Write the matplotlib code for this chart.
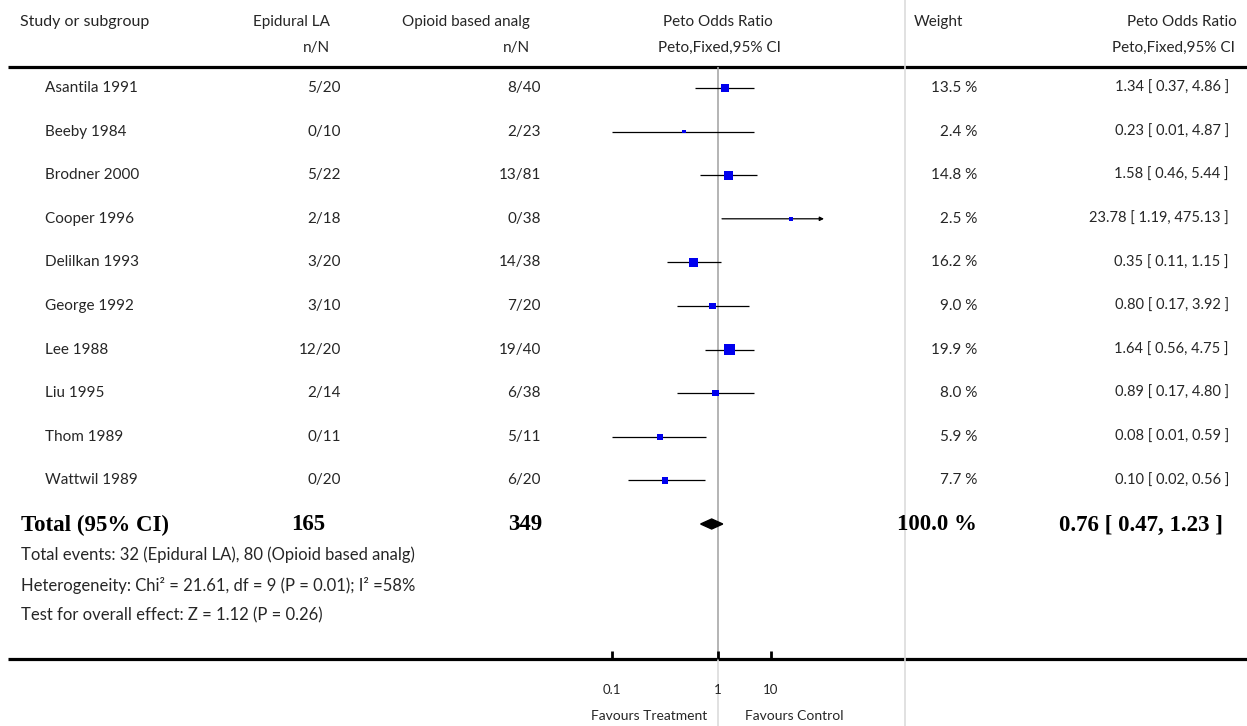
import matplotlib.pyplot as plt
import numpy as np

# data
studies = ['Asantila 1991', 'Beeby 1984', 'Brodner 2000', 'Cooper 1996', 'Delilkan 1993',
           'George 1992', 'Lee 1988', 'Liu 1995', 'Thom 1989', 'Wattwil 1989']
epidural = ['5/20', '0/10', '5/22', '2/18', '3/20', '3/10', '12/20', '2/14', '0/11', '0/20']
opioid = ['8/40', '2/23', '13/81', '0/38', '14/38', '7/20', '19/40', '6/38', '5/11', '6/20']
weight = [13.5, 2.4, 14.8, 2.5, 16.2, 9.0, 19.9, 8.0, 5.9, 7.7]
peto_or = [1.34, 0.23, 1.58, 23.78, 0.35, 0.80, 1.64, 0.89, 0.08, 0.10]
ci_lo = [0.37, 0.01, 0.46, 1.19, 0.11, 0.17, 0.56, 0.17, 0.01, 0.02]
ci_hi = [4.86, 4.87, 5.44, 475.13, 1.15, 3.92, 4.75, 4.80, 0.59, 0.56]
total_n = ['165', '349']
total_or, total_lo, total_hi = 0.76, 0.47, 1.23
total_weight = '100.0 %'
footer = ['Total events: 32 (Epidural LA), 80 (Opioid based analg)',
          'Heterogeneity: Chi\u00b2 = 21.61, df = 9 (P = 0.01); I\u00b2 =58%',
          'Test for overall effect: Z = 1.12 (P = 0.26)']
tick_pos = [0.01, 1, 10]
tick_labels = ['0.1', '1', '10']

plt.rcParams['font.family'] = ['Lato', 'DejaVu Sans']
W, H = 1247, 726
fig = plt.figure(figsize=(W / 100, H / 100), dpi=100)

# background axes in pixel coordinates for the table text
bg = fig.add_axes([0, 0, 1, 1])
bg.set_xlim(0, W)
bg.set_ylim(H, 0)
bg.axis('off')

fs = 11
tc = '#262626'
row_y = 88 + 43.6 * np.arange(len(studies))
total_y = 88 + 43.6 * len(studies)

# headers
bg.text(20, 22, 'Study or subgroup', fontsize=fs + 0.5, color=tc, va='center')
bg.text(330, 22, 'Epidural LA', fontsize=fs, color=tc, va='center', ha='right')
bg.text(330, 48, 'n/N', fontsize=fs, color=tc, va='center', ha='right')
bg.text(530, 22, 'Opioid based analg', fontsize=fs, color=tc, va='center', ha='right')
bg.text(530, 48, 'n/N', fontsize=fs, color=tc, va='center', ha='right')
bg.text(718, 22, 'Peto Odds Ratio', fontsize=fs, color=tc, va='center', ha='center')
bg.text(719, 48, 'Peto,Fixed,95% CI', fontsize=fs, color=tc, va='center', ha='center')
bg.text(914, 22, 'Weight', fontsize=fs, color=tc, va='center')
bg.text(1237, 22, 'Peto Odds Ratio', fontsize=fs, color=tc, va='center', ha='right')
bg.text(1235, 48, 'Peto,Fixed,95% CI', fontsize=fs, color=tc, va='center', ha='right')

# study rows
for i, y in enumerate(row_y):
    bg.text(45, y, studies[i], fontsize=fs, color=tc, va='center')
    bg.text(341, y, epidural[i], fontsize=fs, color=tc, va='center', ha='right')
    bg.text(541, y, opioid[i], fontsize=fs, color=tc, va='center', ha='right')
    bg.text(977, y, f'{weight[i]:.1f} %', fontsize=fs, color=tc, va='center', ha='right')
    bg.text(1229, y, f'{peto_or[i]:.2f} [ {ci_lo[i]:.2f}, {ci_hi[i]:.2f} ]',
            fontsize=fs - 0.5, color=tc, va='center', ha='right')

# total row (bold serif)
bfont = dict(family='Liberation Serif', fontweight='bold', fontsize=16.5, va='center')
bg.text(21, total_y + 1, 'Total (95% CI)', **bfont)
bg.text(325, total_y + 1, total_n[0], ha='right', **bfont)
bg.text(542, total_y + 1, total_n[1], ha='right', **bfont)
bg.text(977, total_y + 1, total_weight, ha='right', **bfont)
bg.text(1223, total_y + 1, f'{total_or:.2f} [ {total_lo:.2f}, {total_hi:.2f} ]', ha='right', **bfont)

for j, line in enumerate(footer):
    bg.text(21, 555 + 30 * j, line, fontsize=12, color=tc, va='center')

# rules
bg.plot([8, W], [67, 67], color='black', lw=2.3, solid_capstyle='butt')
bg.plot([8, W], [659, 659], color='black', lw=2.3, solid_capstyle='butt')
bg.plot([905, 905], [0, H], color='#dcdcdc', lw=1.2)

bg.text(707, 716, 'Favours Treatment', fontsize=10, color=tc, va='center', ha='right')
bg.text(745, 716, 'Favours Control', fontsize=10, color=tc, va='center', ha='left')

# forest axes on a log scale
x0, x1, ytop, ybot = 612, 824, 67, 659
ax = fig.add_axes([x0 / W, (H - ybot) / H, (x1 - x0) / W, (ybot - ytop) / H])
ax.set_xscale('log')
ax.set_xlim(0.01, 100)
ax.set_ylim(ybot, ytop)
ax.patch.set_alpha(0)
for s in ax.spines.values():
    s.set_visible(False)
ax.set_yticks([])
ax.set_xticks(tick_pos, labels=tick_labels)
ax.xaxis.set_minor_locator(plt.NullLocator())
ax.tick_params(axis='x', direction='in', length=6, width=2, pad=18, labelsize=9.5, labelcolor=tc)

ax.axvline(1, color='#a8a8a8', lw=1.2, zorder=1)
ax.plot([1, 1], [ybot, H], color='#dcdcdc', lw=1.2, clip_on=False, zorder=1)

lo = np.clip(ci_lo, 0.01, 100)
hi = np.array(ci_hi)
for i, y in enumerate(row_y):
    if hi[i] > 100:
        ax.annotate('', xy=(100, y), xytext=(lo[i], y),
                    arrowprops=dict(arrowstyle='-|>', lw=0.9, color='black',
                                    mutation_scale=6, shrinkA=0, shrinkB=0))
    else:
        ax.hlines(y, lo[i], hi[i], color='black', lw=0.9, zorder=2)

sizes = (0.72 * 2.3 * np.sqrt(weight)) ** 2
ax.scatter(peto_or, row_y, marker='s', s=sizes, color='#0000ee', zorder=3, linewidths=0)

ax.fill([total_lo, total_or, total_hi, total_or],
        [total_y, total_y - 5, total_y, total_y + 5], color='black', zorder=3)

fig.savefig('out.png', dpi=100)
